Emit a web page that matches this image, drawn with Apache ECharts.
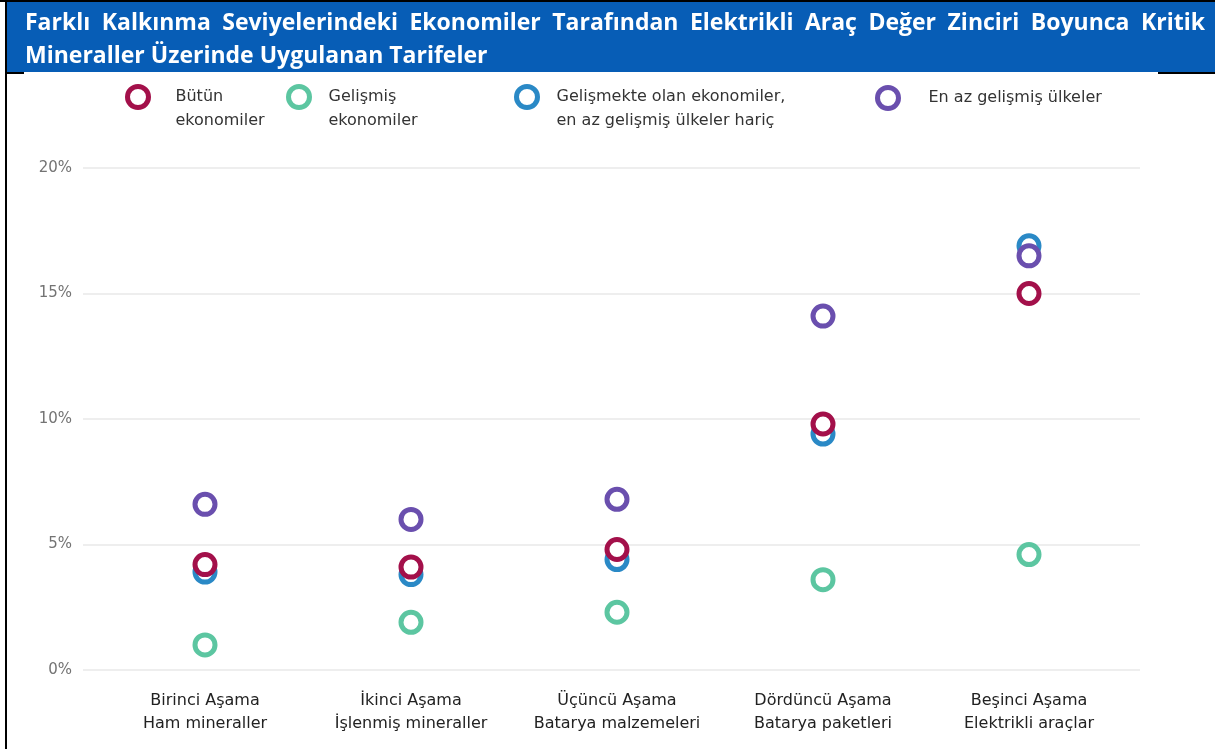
<!DOCTYPE html>
<html>
<head>
<meta charset="utf-8">
<script src="https://cdn.jsdelivr.net/npm/echarts@6/dist/echarts.min.js"></script>
<style>
  html, body { margin: 0; padding: 0; background: #ffffff; }
  #chart { width: 1215px; height: 749px; }
</style>
</head>
<body>
<div id="chart"></div>
<script>
// Title, split in two lines (the first one is justified)
const titleLines = [
  'Farklı Kalkınma Seviyelerindeki Ekonomiler Tarafından Elektrikli Araç Değer Zinciri Boyunca Kritik',
  'Mineraller Üzerinde Uygulanan Tarifeler'
];

// Stages of the EV value chain
const stages = [
  'Birinci Aşama\nHam mineraller',
  'İkinci Aşama\nİşlenmiş mineraller',
  'Üçüncü Aşama\nBatarya malzemeleri',
  'Dördüncü Aşama\nBatarya paketleri',
  'Beşinci Aşama\nElektrikli araçlar'
];

// Economy groups and their legend labels
const groupNames = [
  'Bütün ekonomiler',
  'Gelişmiş ekonomiler',
  'Gelişmekte olan ekonomiler, en az gelişmiş ülkeler hariç',
  'En az gelişmiş ülkeler'
];
const groupLabels = [
  'Bütün\nekonomiler',
  'Gelişmiş\nekonomiler',
  'Gelişmekte olan ekonomiler,\nen az gelişmiş ülkeler hariç',
  'En az gelişmiş ülkeler'
];
const groupColors = ['#a3104a', '#5cc6a1', '#2a89c6', '#6a4fae'];

// Average tariff (%) per stage
const allEconomies   = [4.2, 4.1, 4.8, 9.8, 15.0];
const developed      = [1.0, 1.9, 2.3, 3.6, 4.6];
const developing     = [3.9, 3.8, 4.4, 9.4, 16.9];
const leastDeveloped = [6.6, 6.0, 6.8, 14.1, 16.5];

// Y axis ticks
const yMin = 0, yMax = 20, yStep = 5;

const groupValues = [allEconomies, developed, developing, leastDeveloped];
// drawing order: blue under the others, red on top
const drawOrder = [2, 1, 3, 0];

const labelFont = '"DejaVu Sans", sans-serif';

const chart = echarts.init(document.getElementById('chart'), null, { renderer: 'canvas' });

// --- title: second line sets the size, first line is justified ------------
const titleFontFamily = '"Open Sans", sans-serif';
const titleLeft = 25, titleRight = 1205, titleLine2Width = 467;
const measureCtx = document.createElement('canvas').getContext('2d');
measureCtx.font = 'bold 20px ' + titleFontFamily;
const titleFontSize = Math.round(20 * titleLine2Width / measureCtx.measureText(titleLines[1]).width * 2) / 2;
const titleFont = 'bold ' + titleFontSize + 'px ' + titleFontFamily;
measureCtx.font = titleFont;
const words = titleLines[0].split(' ');
const wordWidths = words.map(w => measureCtx.measureText(w).width);
const wordsTotal = wordWidths.reduce((a, b) => a + b, 0);
const wordGap = (titleRight - titleLeft - wordsTotal) / (words.length - 1);
const titleWordEls = [];
let cursor = titleLeft;
words.forEach((w, i) => {
  titleWordEls.push({
    type: 'text', x: cursor, y: 23, z: 10,
    style: { text: w, fill: '#ffffff', font: titleFont, verticalAlign: 'middle' }
  });
  cursor += wordWidths[i] + wordGap;
});

// --- one legend block per group --------------------------------------------
const legendLefts = [125, 286, 514, 875];
const legendTextGaps = [22, 14, 14, 25];
const legends = groupNames.map((name, i) => {
  const twoLines = groupLabels[i].indexOf('\n') >= 0;
  return {
    data: [name],
    left: legendLefts[i],
    top: twoLines ? 61 : 85,
    padding: 0,
    itemWidth: 21,
    itemHeight: 21,
    selectedMode: false,
    icon: 'circle',
    itemStyle: { color: '#ffffff', borderColor: groupColors[i], borderWidth: 5 },
    // a blank first line keeps the first text line level with the marker
    formatter: () => (twoLines ? '\n' : '') + groupLabels[i],
    textStyle: {
      fontFamily: labelFont,
      fontSize: 16,
      color: '#333333',
      lineHeight: 24,
      padding: [0, 0, 0, legendTextGaps[i]]
    }
  };
});

const option = {
  backgroundColor: '#ffffff',
  animation: false,
  legend: legends,
  grid: [
    { left: 83, right: 75, top: 168, bottom: 79 },
    { left: 102, right: 83, top: 168, bottom: 79 }
  ],
  xAxis: [
    { gridIndex: 0, type: 'value', show: false, min: 0, max: 1 },
    {
      gridIndex: 1, type: 'category', data: stages,
      axisLine: { show: false }, axisTick: { show: false },
      axisLabel: {
        margin: 19, fontFamily: labelFont, fontSize: 16,
        color: '#222222', lineHeight: 23, interval: 0
      }
    }
  ],
  yAxis: [
    {
      gridIndex: 0, type: 'value', min: yMin, max: yMax, interval: yStep,
      axisLine: { show: false }, axisTick: { show: false },
      axisLabel: {
        formatter: '{value}%', margin: 11, fontFamily: labelFont,
        fontSize: 15, color: '#737373'
      },
      splitLine: { lineStyle: { color: '#eeeeee', width: 2 } }
    },
    { gridIndex: 1, type: 'value', min: yMin, max: yMax, show: false, splitLine: { show: false } }
  ],
  series: drawOrder.map((gi, k) => ({
    name: groupNames[gi],
    type: 'scatter',
    xAxisIndex: 1,
    yAxisIndex: 1,
    z: 2 + k,
    symbol: 'circle',
    symbolSize: 20,
    data: groupValues[gi],
    itemStyle: { color: '#ffffff', borderColor: groupColors[gi], borderWidth: 5, opacity: 1 },
    emphasis: { disabled: true }
  })),
  graphic: [
    // title band
    { type: 'rect', shape: { x: 7, y: 2, width: 1208, height: 70 }, style: { fill: '#075db6' }, z: 1 },
    // frame lines
    { type: 'rect', shape: { x: 0, y: 0, width: 1215, height: 2 }, style: { fill: '#000000' }, z: 2 },
    { type: 'rect', shape: { x: 5, y: 0, width: 2, height: 749 }, style: { fill: '#000000' }, z: 2 },
    { type: 'rect', shape: { x: 5, y: 72, width: 19, height: 2 }, style: { fill: '#000000' }, z: 2 },
    { type: 'rect', shape: { x: 1158, y: 72, width: 57, height: 2 }, style: { fill: '#000000' }, z: 2 },
    ...titleWordEls,
    {
      type: 'text', x: titleLeft, y: 56, z: 10,
      style: { text: titleLines[1], fill: '#ffffff', font: titleFont, verticalAlign: 'middle' }
    }
  ]
};

chart.setOption(option);
</script>
</body>
</html>
